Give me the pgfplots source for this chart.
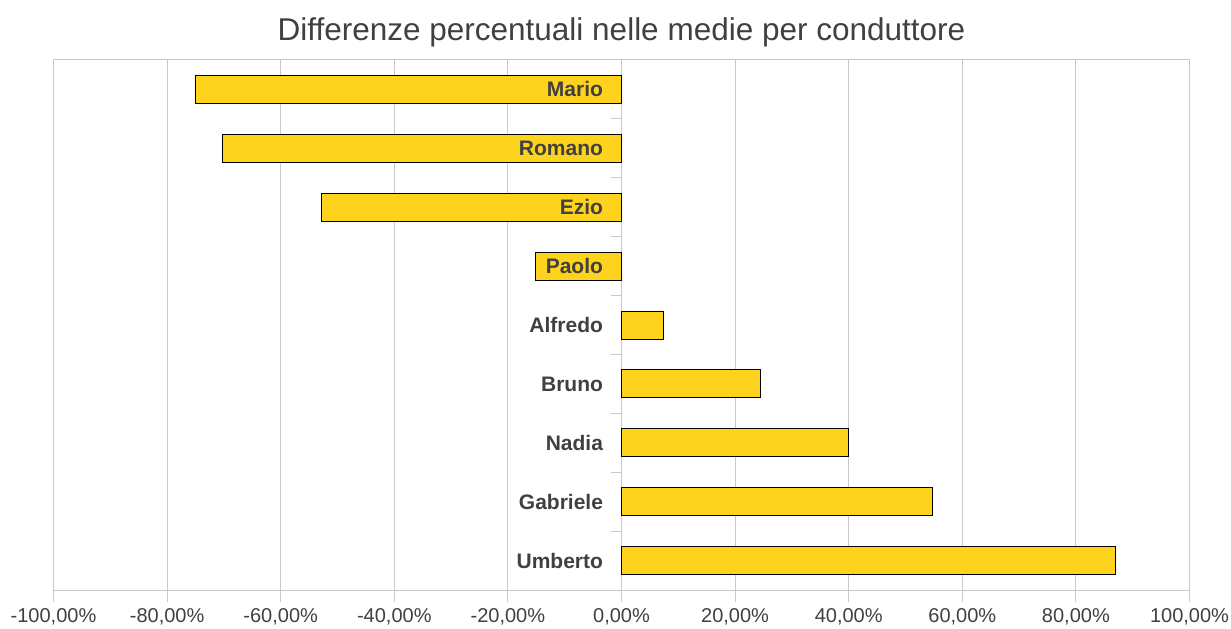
\documentclass[border=0pt]{standalone}
\usepackage{pgfplots}
\pgfplotsset{compat=1.18}
\usepackage{fontspec}
\setmainfont{Liberation Sans}
\definecolor{baryellow}{RGB}{253,211,30}
\definecolor{txtgray}{RGB}{64,64,64}
\definecolor{gridgray}{RGB}{200,200,200}

\pgfplotsset{
    frame/.style={
        scale only axis,
        width=1136bp, height=530bp,
        xmin=-100, xmax=100,
        ymin=-0.5, ymax=8.5,
        axis x line=bottom,
        axis y line=middle,
        axis line style={-, gridgray, line width=1bp},
        hide obscured x ticks=false,
        hide obscured y ticks=false,
    },
}

\begin{document}
\begin{tikzpicture}
% bars, grid, ticks
\begin{axis}[
    frame,
    name=ax,
    xbar, bar width=28bp,
    xtick={-100,-80,...,100},
    xticklabel={\pgfmathprintnumber[fixed,fixed zerofill,precision=2,use comma,assume math mode=true]{\tick}\%},
    xticklabel style={font=\fontsize{20bp}{24bp}\selectfont, text=txtgray, yshift=-3bp},
    ytick={0,...,8},
    yticklabels={},
    minor ytick={0.5,1.5,...,7.5},
    tick align=outside,
    major tick length=12bp,
    minor tick length=11bp,
    major y tick style={draw=none},
    minor y tick style={gridgray, line width=1bp},
    major x tick style={gridgray, line width=1bp},
    xmajorgrids,
    ymajorgrids=false,
    grid style={gridgray, line width=1bp},
    title={Differenze percentuali nelle medie per conduttore},
    title style={font=\fontsize{31.5bp}{36bp}\selectfont, text=txtgray, at={(0.5,1)}, anchor=center, yshift=22bp},
]
\addplot[fill=baryellow, draw=black, line width=0.8bp] coordinates {
    (86.9,0) (54.7,1) (39.9,2) (24.4,3) (7.3,4)
    (-15.2,5) (-52.9,6) (-70.2,7) (-75.1,8)
};
\draw[gridgray, line width=1bp] (rel axis cs:0,1) -- (rel axis cs:1,1);
\end{axis}
% category names, drawn over the bars
\begin{axis}[
    frame,
    axis line style={draw=none},
    xtick=\empty,
    ytick={0,...,8},
    yticklabels={Umberto,Gabriele,Nadia,Bruno,Alfredo,Paolo,Ezio,Romano,Mario},
    yticklabel style={font=\fontsize{21bp}{24bp}\selectfont\bfseries, text=txtgray, xshift=-9bp},
    major tick length=12bp,
    ytick style={draw=none},
]
\end{axis}
% overall page: 1231 x 629
\pgfresetboundingbox
\path[use as bounding box] ([shift={(-53.5bp,-39bp)}]ax.south west) rectangle ([shift={(41.5bp,60bp)}]ax.north east);
\end{tikzpicture}
\end{document}
